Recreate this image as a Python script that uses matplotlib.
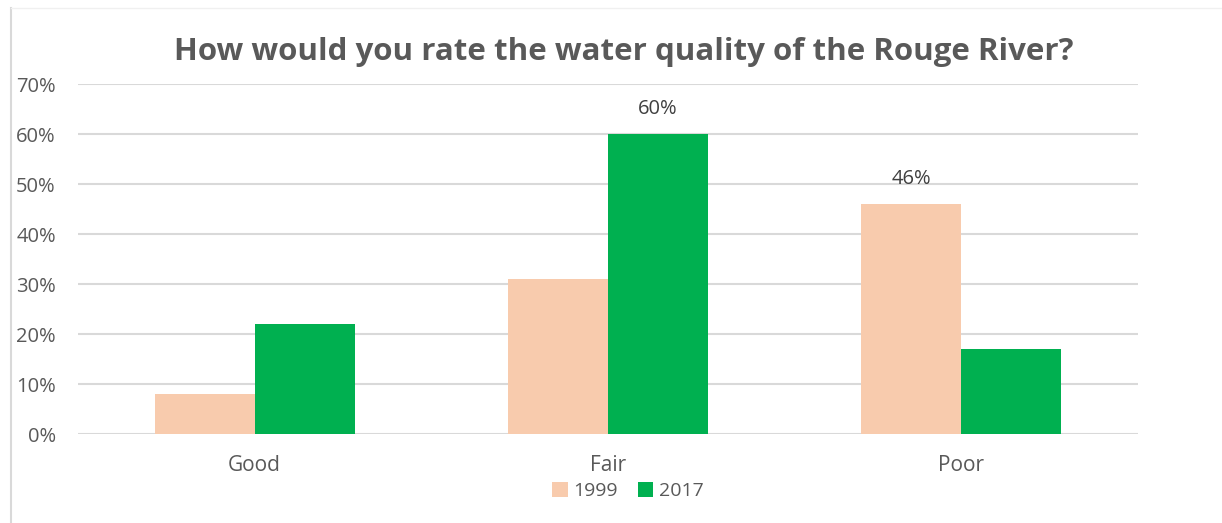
import matplotlib
matplotlib.use("Agg")
import matplotlib.pyplot as plt
import numpy as np
from matplotlib.lines import Line2D

categories = ["Good", "Fair", "Poor"]
series_names = ["1999", "2017"]
values_1999 = [8, 31, 46]
values_2017 = [22, 60, 17]
yticks = [0, 10, 20, 30, 40, 50, 60, 70]
labelled = {("1999", 2): "46%", ("2017", 1): "60%"}

c1999 = "#F8CBAD"
c2017 = "#00B050"
text_c = "#595959"
grid_c = "#D9D9D9"
font = "Open Sans"

fig = plt.figure(figsize=(12.22, 5.23), dpi=100)
ax = fig.add_axes([78/1222, 1-434/523, 1060/1222, 350/523])

x = np.arange(len(categories))
w = 0.283
b1 = ax.bar(x - w/2, values_1999, w, color=c1999, label=series_names[0], zorder=3)
b2 = ax.bar(x + w/2, values_2017, w, color=c2017, label=series_names[1], zorder=3)

for (name, i), txt in labelled.items():
    vals = values_1999 if name == "1999" else values_2017
    off = -w/2 if name == "1999" else w/2
    ax.annotate(txt, (x[i] + off, vals[i]), xytext=(0, 11), textcoords="offset points",
                ha="center", va="bottom", fontsize=14.5, color="#404040", family=font, zorder=4)

ax.set_xlim(-0.5, 2.5)
ax.set_ylim(0, 70)
ax.set_yticks(yticks)
ax.set_yticklabels([f"{t}%" for t in yticks], family=font, fontsize=14.5, color=text_c)
ax.set_xticks(x)
ax.set_xticklabels(categories, family=font, fontsize=15, color=text_c)
ax.tick_params(axis="both", length=0)
ax.tick_params(axis="y", pad=16)
ax.tick_params(axis="x", pad=15)
ax.yaxis.grid(True, color=grid_c, linewidth=1.5, zorder=0)
for s in ax.spines.values():
    s.set_visible(False)

fig.text(624/1222, 1-52/523, "How would you rate the water quality of the Rouge River?",
         ha="center", va="center", fontsize=22.5, fontweight="bold", color=text_c, family=font)

leg = fig.legend(handles=[b1, b2], labels=series_names, loc="center", bbox_to_anchor=(628/1222, 1-491/523),
                 ncol=2, frameon=False, prop={"family": font, "size": 14},
                 handlelength=0.8, handleheight=0.8, handletextpad=0.3, columnspacing=1.0)
for t in leg.get_texts():
    t.set_color(text_c)

fig.add_artist(Line2D([11/1222, 11/1222], [0, 1-8/523], color="#D9D9D9", linewidth=1.5, transform=fig.transFigure))
fig.add_artist(Line2D([11/1222, 1], [1-8/523, 1-8/523], color="#F0F0F0", linewidth=1, transform=fig.transFigure))

fig.savefig("out.png", dpi=100)
